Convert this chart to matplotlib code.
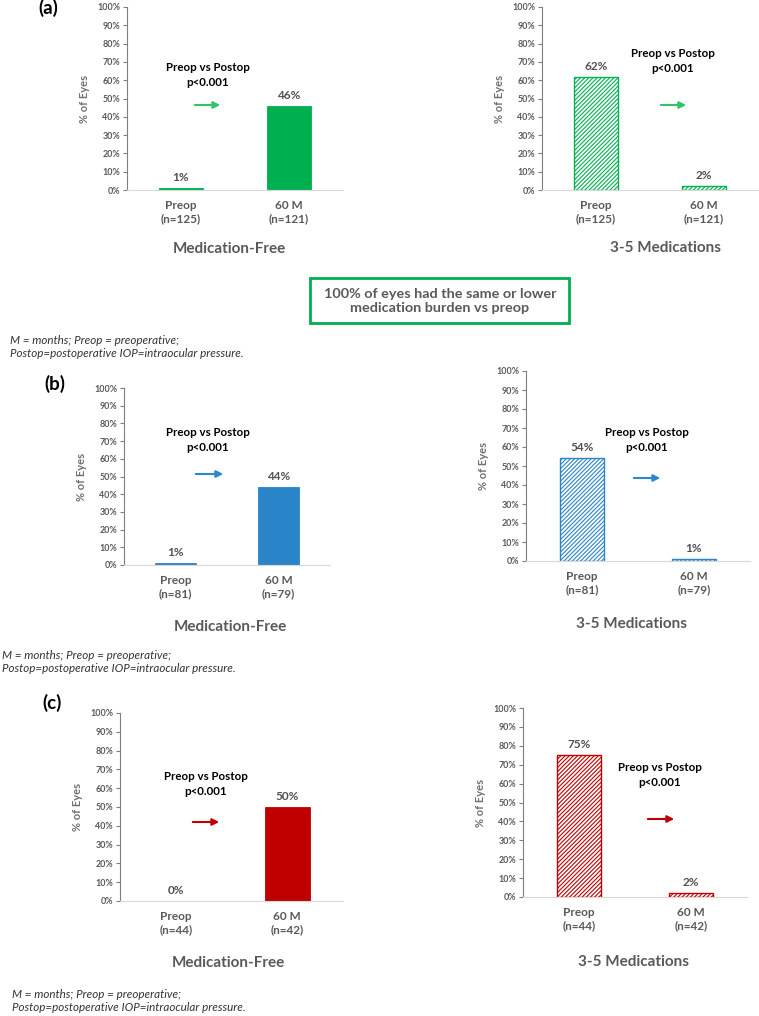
import matplotlib
matplotlib.use("Agg")
import matplotlib.pyplot as plt
from matplotlib.patches import Rectangle, FancyArrowPatch

# ---------------- data ----------------
panel_labels = ["(a)", "(b)", "(c)"]
timepoints = ["Preop", "60 M"]
n_a = [125, 121]
n_b = [81, 79]
n_c = [44, 42]
medfree_a = [1, 46]
meds35_a = [62, 2]
medfree_b = [1, 44]
meds35_b = [54, 1]
medfree_c = [0, 50]
meds35_c = [75, 2]
ytick_values = [0, 10, 20, 30, 40, 50, 60, 70, 80, 90, 100]
titles = ["Medication-Free", "3-5 Medications"]
stat_text = "Preop vs Postop\np<0.001"
box_text = "100% of eyes had the same or lower\nmedication burden vs preop"
note_text = "M = months; Preop = preoperative;\nPostop=postoperative IOP=intraocular pressure."
colors = ["#00B050", "#2A84C8", "#C00000"]
arrow_colors = ["#2FC466", "#2A88CC", "#C00000"]

plt.rcParams["font.family"] = ["Lato", "DejaVu Sans"]
plt.rcParams["hatch.linewidth"] = 0.8

W, H = 759, 1016
fig = plt.figure(figsize=(W / 100, H / 100), dpi=100)


def fx(x):
    return x / W


def fy(y):
    return 1 - y / H


def rect(x0, x1, yt, yb):
    return [fx(x0), fy(yb), (x1 - x0) / W, (yb - yt) / H]


GRAY = "#595959"

layout = [
    # (axes px rect), (stat x, stat y, arrow x0, x1, y), (title x, y)
    [((127, 343, 7, 190), (208, 75, 192, 223, 105), (229, 249)),
     ((542, 758, 7, 190), (673, 61, 658, 689, 105), (665, 248))],
    [((124, 330, 388, 565), (208, 440, 193, 226, 474), (230, 627)),
     ((526, 750, 371, 561), (647, 440, 631, 663, 478), (632, 624))],
    [((120, 343, 713, 901), (206, 784, 190, 222, 822), (228, 963)),
     ((523, 747, 708, 897), (660, 775, 645, 677, 819), (633, 962))],
]
panel_label_pos = [(48, 8), (55, 384), (52, 703)]
note_pos = [(10, 347), (2, 662), (12, 1001)]

values = [(medfree_a, meds35_a, n_a), (medfree_b, meds35_b, n_b), (medfree_c, meds35_c, n_c)]

for p in range(3):
    mf, m35, n = values[p]
    col = colors[p]
    for side in range(2):
        (r, st, tt) = layout[p][side]
        ax = fig.add_axes(rect(*r))
        raw = mf if side == 0 else m35
        vals = [v / 100 for v in raw]
        xs = range(len(timepoints))
        if side == 0:
            bars = ax.bar(xs, vals, width=0.4, color=col, edgecolor=col, linewidth=0.6)
        else:
            bars = ax.bar(xs, vals, width=0.4, facecolor="white", edgecolor=col,
                          hatch="////////", linewidth=1.0)
        for b, v in zip(bars, raw):
            ax.annotate(f"{v}%", xy=(b.get_x() + b.get_width() / 2, b.get_height()),
                        xytext=(0, 7.5), textcoords="offset points", ha="center",
                        va="center", fontsize=8.5, fontweight="bold", color="#505050")
        ax.set_xlim(-0.5, 1.5)
        ax.set_ylim(0, 1)
        ax.set_yticks([v / 100 for v in ytick_values])
        ax.set_yticklabels([f"{v}%" for v in ytick_values], fontsize=6.4,
                           fontweight="bold", color=GRAY)
        ax.set_xticks(list(xs))
        ax.set_xticklabels([f"{t}\n(n={k})" for t, k in zip(timepoints, n)],
                           fontsize=8.5, color=GRAY, fontweight="bold", linespacing=1.25)
        ax.tick_params(axis="x", length=0, pad=7)
        ax.tick_params(axis="y", length=3, width=0.8, color="#7F7F7F", pad=2)
        for s in ["top", "right"]:
            ax.spines[s].set_visible(False)
        ax.spines["left"].set_color("#7F7F7F")
        ax.spines["left"].set_linewidth(0.8)
        ax.spines["bottom"].set_color("#D9D9D9")
        ax.spines["bottom"].set_linewidth(0.8)
        ax.set_ylabel("% of Eyes", fontsize=8, color="#707070", fontweight="bold", labelpad=5)
        ax.patch.set_alpha(0)
        # statistics annotation
        sx, sy, ax0, ax1, ay = st
        fig.text(fx(sx), fy(sy), stat_text, ha="center", va="center", fontsize=8.3,
                 fontweight="bold", color="black", linespacing=1.4)
        fig.add_artist(FancyArrowPatch(
            (fx(ax0), fy(ay)), (fx(ax1), fy(ay)), transform=fig.transFigure,
            arrowstyle="-|>", mutation_scale=10, color=arrow_colors[p], lw=1.5))
        fig.text(fx(tt[0]), fy(tt[1]), titles[side], ha="center", va="center",
                 fontsize=11, fontweight="bold", color=GRAY)
    lx, ly = panel_label_pos[p]
    fig.text(fx(lx), fy(ly), panel_labels[p], ha="center", va="center", fontsize=13.5,
             fontweight="bold", color="black")
    nx, ny = note_pos[p]
    fig.text(fx(nx), fy(ny), note_text, ha="left", va="center", fontsize=8.4,
             style="italic", color="#333333", linespacing=1.3)

# summary box
fig.add_artist(Rectangle((fx(310), fy(323)), (569 - 310) / W, (323 - 278) / H,
                         transform=fig.transFigure, facecolor="white",
                         edgecolor="#00B050", linewidth=2))
fig.text(fx(440), fy(301), box_text, ha="center", va="center", fontsize=10.4,
         fontweight="bold", color=GRAY, linespacing=1.25)

fig.savefig("out.png", dpi=100)
